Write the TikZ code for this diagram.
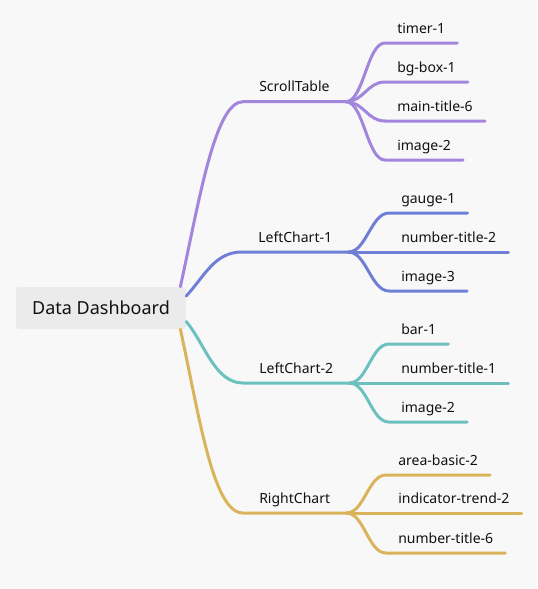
\documentclass[tikz,border=0pt]{standalone}
\usepackage{fontspec}
\setmainfont{Noto Sans}
\definecolor{bgcol}{HTML}{F8F8F8}
\definecolor{rootfill}{HTML}{EBEBEB}
\definecolor{cscroll}{HTML}{A286DD}
\definecolor{cleftone}{HTML}{6F7FD6}
\definecolor{clefttwo}{HTML}{6CC0BE}
\definecolor{cright}{HTML}{D9B45A}
\definecolor{ink}{HTML}{111111}
\tikzset{
  rootbox/.style={rectangle, rounded corners=2pt, fill=rootfill, text=ink,
    minimum width=127.5pt, minimum height=31.5pt, font=\fontsize{13.5}{16}\selectfont},
  branch/.style={anchor=south west, inner xsep=12pt, inner ysep=4.6pt,
    text height=8pt, text depth=2.5pt, text=ink, font=\fontsize{10.5}{12}\selectfont},
  leaf/.style={branch, inner xsep=9pt},
  link/.style={line width=2.25pt, line cap=round},
}
\begin{document}
\begin{tikzpicture}[x=0.75pt, y=-0.75pt]
  % 背景
  \fill[bgcol] (0,0) rectangle (537,589);
  \useasboundingbox (0,0) rectangle (537,589);
  % 中心节点
  \node[rootbox] (root) at (101,308) {Data Dashboard};
  % 分支
  \node[branch] (scroll) at (243,101.7) {ScrollTable};
  \node[branch] (left1) at (242,252) {LeftChart-1};
  \node[branch] (left2) at (243,383) {LeftChart-2};
  \node[branch] (right) at (243,513) {RightChart};
  % 叶子
  \node[leaf] (timer) at (385,43) {timer-1};
  \node[leaf] (bgbox) at (385,82) {bg-box-1};
  \node[leaf] (maintitle) at (385,121) {main-title-6};
  \node[leaf] (imagea) at (385,160) {image-2};
  \node[leaf] (gauge) at (389,213) {gauge-1};
  \node[leaf] (numtwo) at (389,252) {number-title-2};
  \node[leaf] (imageb) at (389,291) {image-3};
  \node[leaf] (bar) at (389,344) {bar-1};
  \node[leaf] (numone) at (389,383) {number-title-1};
  \node[leaf] (imagec) at (389,422) {image-2};
  \node[leaf] (area) at (386,475) {area-basic-2};
  \node[leaf] (trend) at (386,513) {indicator-trend-2};
  \node[leaf] (numsix) at (386,553) {number-title-6};
  % 连线 ScrollTable
  \draw[link, cscroll] (root.15) .. controls +(19,-87) and +(-28,0) .. (scroll.south west) -- (scroll.south east);
  \draw[link, cscroll] (scroll.south east) .. controls +(18,0) and +(-18,0) .. (timer.south west) -- (timer.south east);
  \draw[link, cscroll] (scroll.south east) .. controls +(18,0) and +(-18,0) .. (bgbox.south west) -- (bgbox.south east);
  \draw[link, cscroll] (scroll.south east) .. controls +(18,0) and +(-18,0) .. (maintitle.south west) -- (maintitle.south east);
  \draw[link, cscroll] (scroll.south east) .. controls +(18,0) and +(-18,0) .. (imagea.south west) -- (imagea.south east);
  % 连线 LeftChart-1
  \draw[link, cleftone] (root.8) .. controls +(19,-21) and +(-27,0) .. (left1.south west) -- (left1.south east);
  \draw[link, cleftone] (left1.south east) .. controls +(18,0) and +(-18,0) .. (gauge.south west) -- (gauge.south east);
  \draw[link, cleftone] (left1.south east) -- (numtwo.south west) -- (numtwo.south east);
  \draw[link, cleftone] (left1.south east) .. controls +(18,0) and +(-18,0) .. (imageb.south west) -- (imageb.south east);
  % 连线 LeftChart-2
  \draw[link, clefttwo] (root.-9) .. controls +(19,23) and +(-28,0) .. (left2.south west) -- (left2.south east);
  \draw[link, clefttwo] (left2.south east) .. controls +(18,0) and +(-18,0) .. (bar.south west) -- (bar.south east);
  \draw[link, clefttwo] (left2.south east) -- (numone.south west) -- (numone.south east);
  \draw[link, clefttwo] (left2.south east) .. controls +(18,0) and +(-18,0) .. (imagec.south west) -- (imagec.south east);
  % 连线 RightChart
  \draw[link, cright] (root.-15) .. controls +(19,87) and +(-30,0) .. (right.south west) -- (right.south east);
  \draw[link, cright] (right.south east) .. controls +(18,0) and +(-18,0) .. (area.south west) -- (area.south east);
  \draw[link, cright] (right.south east) -- (trend.south west) -- (trend.south east);
  \draw[link, cright] (right.south east) .. controls +(18,0) and +(-18,0) .. (numsix.south west) -- (numsix.south east);
\end{tikzpicture}
\end{document}
